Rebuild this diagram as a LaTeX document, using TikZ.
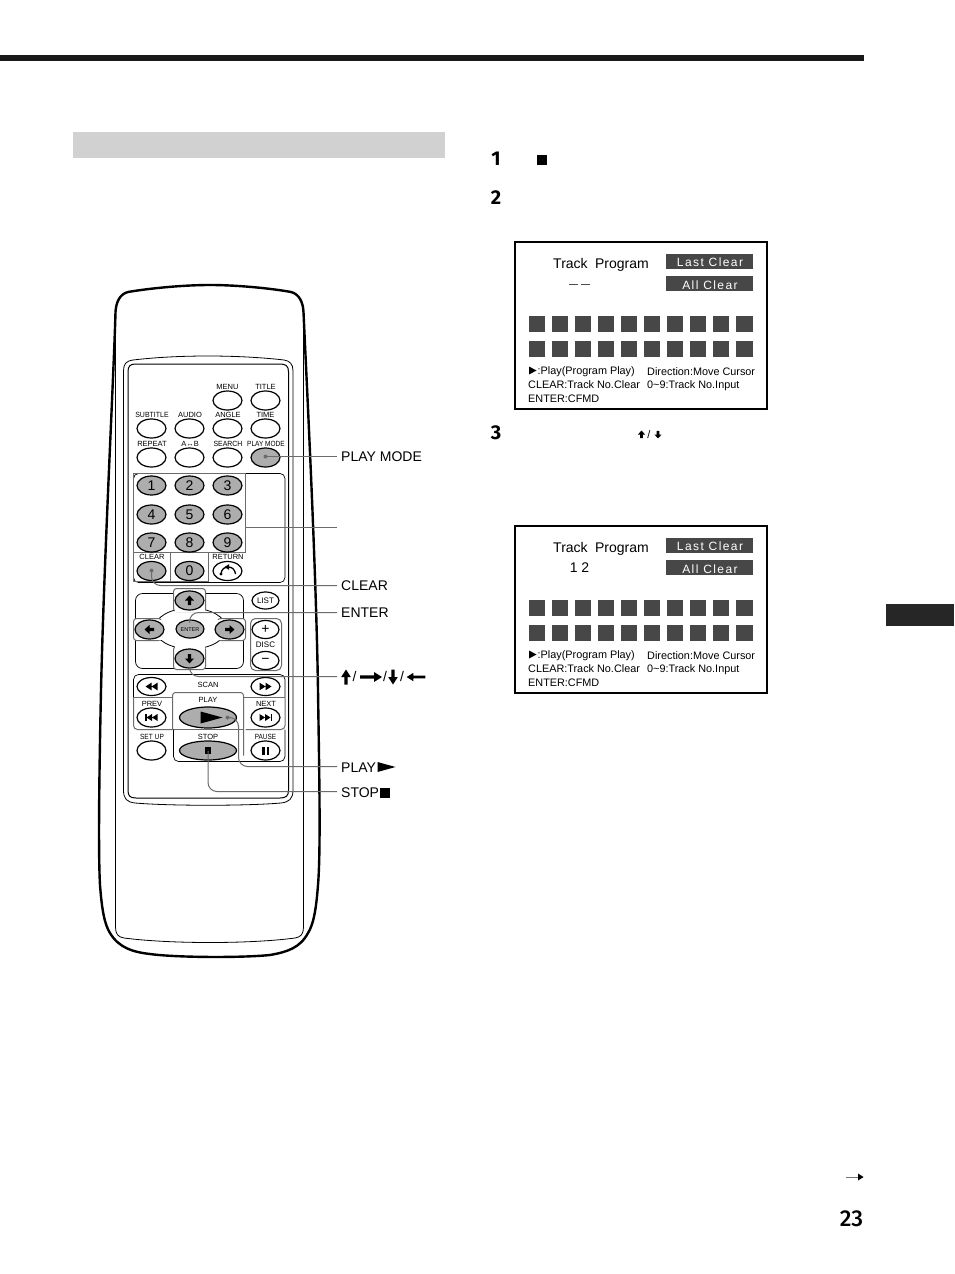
\documentclass[tikz,border=0pt]{standalone}
\usepackage{fontspec}
\usepackage{graphicx}
\setmainfont{Liberation Sans}
\newfontfamily\stepf{Fira Sans}[UprightFont=* Bold]
\newfontfamily\pagef{Fira Sans}[UprightFont=* Medium]
\usetikzlibrary{shapes.geometric,calc}
\definecolor{hbtn}{gray}{0.68}
\definecolor{dk}{gray}{0.28}
\definecolor{lead}{gray}{0.42}
\newcommand{\fz}[1]{\fontsize{#1}{#1}\selectfont}
\tikzset{
  x=1pt,y=-1pt,
  btn/.style={ellipse,draw=black,line width=1.2,fill=white,minimum width=29,minimum height=19,inner sep=0,font=\fz{14}},
  hot/.style={btn,fill=hbtn},
  tiny/.style={inner sep=0,font=\fz{7.5}},
  callout/.style={anchor=west,inner xsep=4,inner ysep=0,font=\fz{14}},
  leader/.style={draw=lead,line width=1,rounded corners=9},
  dotm/.style={fill=lead,draw=none},
  gbox/.style={draw=lead,line width=1},
  thinb/.style={draw=black,line width=.7},
  scrtxt/.style={anchor=west,inner sep=0,font=\fz{10.85}},
  bartxt/.style={inner sep=0,text=white,font=\fz{12}\addfontfeature{LetterSpace=12}},
  stepn/.style={inner sep=0,font=\stepf\fz{20}},
  slashn/.style={inner sep=0,font=\fz{14}},
  arrR/.pic={\fill[black] (-5,-1.8) -- (0,-1.8) -- (0,-5) -- (5.5,0) -- (0,5) -- (0,1.8) -- (-5,1.8) -- cycle;},
  arrLong/.pic={\fill[black] (-11,-1.6) -- (3,-1.6) -- (3,-5) -- (11,0) -- (3,5) -- (3,1.6) -- (-11,1.6) -- cycle;},
  arrTall/.pic={\fill[black] (-7.5,-1.6) -- (0,-1.6) -- (0,-4.8) -- (7.5,0) -- (0,4.8) -- (0,1.6) -- (-7.5,1.6) -- cycle;},
  twoL/.pic={\fill (0,-3.2) -- (0,3.2) -- (-5,0) -- cycle (5,-3.2) -- (5,3.2) -- (0,0) -- cycle;},
  twoR/.pic={\fill (0,-3.2) -- (0,3.2) -- (5,0) -- cycle (-5,-3.2) -- (-5,3.2) -- (0,0) -- cycle;},
}
\newcommand{\screen}[3]{%
  \begin{scope}[yshift=-#1pt]
    \draw[black,line width=1.6,fill=white] (515,242) rectangle (767,409);
    \fill[dk] (666,254) rectangle (753,269);
    \fill[dk] (666,276) rectangle (753,291);
    \node[bartxt] (last#3) at (710,262) {Last Clear};
    \node[bartxt] (all#3) at (710,285) {All Clear};
    \node[inner sep=0,font=\fz{14}] (title#3) at (601,265) {Track\hspace{3.5pt} Program};
    #2
    \foreach \c in {0,...,8}{
      \fill[dk] ({529+23*\c},316) rectangle ({545+23*\c},332);
      \fill[dk] ({529+23*\c},341) rectangle ({545+23*\c},357);
    }
    \fill[dk] (736,316) rectangle (753,332);
    \fill[dk] (736,341) rectangle (753,357);
    \fill[black] (529,366.5) -- (536.5,370.5) -- (529,374.5) -- cycle;
    \node[scrtxt] (la#3) at (537.5,371.5) {:Play(Program Play)};
    \node[scrtxt] (lb#3) at (647,371.5) {Direction:Move Cursor};
    \node[scrtxt] (lc#3) at (528,385) {CLEAR:Track No.Clear};
    \node[scrtxt] (ld#3) at (647,385.5) {0\textasciitilde 9:Track No.Input};
    \node[scrtxt] (le#3) at (528,399) {ENTER:CFMD};
  \end{scope}}
\begin{document}
\begin{tikzpicture}
\useasboundingbox (0,0) rectangle (954,1274);
\fill[white] (0,0) rectangle (954,1274);
% page furniture
\fill[black!90!white] (0,55) rectangle (864,61);
\fill[black!18] (73,132) rectangle (445,158);
\fill[black!85!white] (886,604) rectangle (954,626);
\node[inner sep=0,font=\pagef\fz{23}] (pageno) at (851.5,1219) {23};
\coordinate (contA) at (846,1177);
\coordinate (contB) at (863,1177);
\draw[black!55,line width=1] (contA) -- (contB);
\fill[black] (858,1173.5) -- (863.5,1177) -- (858,1180.5) -- cycle;
% steps
\node[stepn] (s1) at (496,159) {1};
\node[stepn] (s2) at (496,198) {2};
\node[stepn] (s3) at (496,433) {3};
\fill[black] (537,155) rectangle (547,165);
\pic[scale=.72,rotate=90] at (641.5,434.5) {arrR};
\node[inner sep=0,font=\fz{11}] (slash3) at (649,434.5) {/};
\pic[scale=.72,rotate=270] at (658,434.5) {arrR};
% screens
\screen{0}{\fill[black!70] (569,283.5) rectangle (578,284.7); \fill[black!70] (581,283.5) rectangle (590,284.7);}{A}
\screen{284}{\node[inner sep=0,font=\fz{14}] (digits) at (579.5,284) {1 2};}{B}
% remote body
\draw[black,line width=2.4,line join=round]
  (210,285) .. controls (180,285) and (145,289) .. (128,292)
  .. controls (120,294) and (116,302) .. (115.5,312)
  .. controls (114,370) and (104,560) .. (101,690)
  .. controls (99.5,760) and (98,850) .. (100,885)
  .. controls (102,912) and (105,925) .. (110,933)
  .. controls (119,948) and (133,952) .. (150,954)
  .. controls (175,957.5) and (240,958) .. (270,955)
  .. controls (287,952) and (300,948) .. (308,933)
  .. controls (313,925) and (316,912) .. (318,885)
  .. controls (321,850) and (319,760) .. (318,690)
  .. controls (316,560) and (306,370) .. (303.5,312)
  .. controls (303,302) and (299,294) .. (291,292)
  .. controls (275,289) and (240,285) .. (210,285) -- cycle;
\draw[black,line width=.8] (115.5,312) -- (115.5,927)
  .. controls (115.5,934) and (118,937) .. (124,938)
  .. controls (170,944) and (250,944) .. (295,938)
  .. controls (301,937) and (303.5,934) .. (303.5,927) -- (303.5,312);
% panel
\draw[black,line width=.8] (208,356) .. controls (175,356) and (150,358) .. (133,360)
  .. controls (126,361) and (123.5,364) .. (123.5,371) -- (123.5,790)
  .. controls (123.5,799) and (127,802) .. (135,803)
  .. controls (170,806) and (246,806) .. (281,803)
  .. controls (289,802) and (293,799) .. (293,790) -- (293,371)
  .. controls (293,364) and (290,361) .. (284,360)
  .. controls (267,358) and (240,356) .. (208,356) -- cycle;
\draw[black,line width=1] (128,372) .. controls (128,366) and (130,364) .. (136,364) -- (280,364)
  .. controls (286,364) and (288.5,366) .. (288.5,372) -- (288.5,790)
  .. controls (288.5,796) and (286,798) .. (280,798) -- (136,798)
  .. controls (130,798) and (128,796) .. (128,790) -- cycle;
\begin{scope}[shift={(0.5,0.5)}]
% number panel
\draw[thinb,rounded corners=5] (133,473) rectangle (284.5,582);
\node[draw=lead,line width=1,minimum width=112,minimum height=79,inner sep=0] (numbox) at (189,512.5) {};
\draw[gbox] (133,552) -- (133,581) -- (170,581) -- (170,552);
\draw[gbox] (170,581) -- (208,581) -- (208,552);
% top buttons
\node[btn] (bmenu) at (227,400) {};
\node[btn] (btitle) at (265,400) {};
\node[btn] (bsub) at (151,428) {};
\node[btn] (baudio) at (189,428) {};
\node[btn] (bangle) at (227,428) {};
\node[btn] (btime) at (265,428) {};
\node[btn] (brep) at (151,457) {};
\node[btn] (bab) at (189,457) {};
\node[btn] (bsearch) at (227,457) {};
\node[hot] (bmode) at (265,457) {};
\node[tiny] (tmenu) at (227,386) {MENU};
\node[tiny] (ttitle) at (265,386) {TITLE};
\node[tiny] (tsub) at (151.5,414) {\scalebox{.93}[1]{SUBTITLE}};
\node[tiny] (taudio) at (189.5,414) {AUDIO};
\node[tiny] (tangle) at (227.5,414) {ANGLE};
\node[tiny] (ttime) at (265,414) {TIME};
\node[tiny] (trep) at (151.5,443) {REPEAT};
\node[tiny] (tab) at (189.5,443) {A↔B};
\node[tiny] (tsearch) at (227.5,443) {\scalebox{.92}[1]{SEARCH}};
\node[tiny] (tmode) at (265.5,443) {\scalebox{.87}[1]{PLAY MODE}};
% numbers
\node[hot] (n1) at (151,485) {1};
\node[hot] (n2) at (189,485) {2};
\node[hot] (n3) at (227,485) {3};
\node[hot] (n4) at (151,514) {4};
\node[hot] (n5) at (189,514) {5};
\node[hot] (n6) at (227,514) {6};
\node[hot] (n7) at (151,542) {7};
\node[hot] (n8) at (189,542) {8};
\node[hot] (n9) at (227,542) {9};
\node[hot] (n0) at (189,570.5) {0};
\node[hot] (bclear) at (151,570.5) {};
\node[btn] (bret) at (227,570.5) {};
\node[tiny] (tclear) at (151.5,556.5) {CLEAR};
\node[tiny] (tret) at (227.5,556.5) {RETURN};
\draw[black,line width=1.3] (220.5,573.5) .. controls (221,568.5) and (224,566.5) .. (228,566.5)
  .. controls (232,566.5) and (234.5,569.5) .. (235,573.5);
\fill[black] (220.5,573.5) circle (1.7);
\fill[black] (224,566.5) -- (228.5,563.7) -- (228.5,569.3) -- cycle;
% cursor panel
\draw[thinb,rounded corners=7] (135,593) rectangle (243,668);
\node[ellipse,draw=black,line width=.8,minimum width=72,minimum height=41,inner sep=0] (ring) at (190,628) {};
\draw[gbox,fill=white,rounded corners=3] (173,588) rectangle (205,611);
\draw[gbox,fill=white,rounded corners=3] (173,646) rectangle (205,669);
\draw[gbox,fill=white,rounded corners=3] (133,618) rectangle (161,640);
\draw[gbox,fill=white,rounded corners=3] (217,618) rectangle (245,640);
\fill[white] (174,605) rectangle (204,611.6);
\fill[white] (174,645.4) rectangle (204,652);
\fill[white] (155,619) rectangle (161.6,639);
\fill[white] (216.4,619) rectangle (223,639);
\node[hot] (bup) at (189,600) {};
\node[hot] (bdown) at (189,658) {};
\node[hot] (bleft) at (149,629) {};
\node[hot] (bright) at (229,629) {};
\node[hot,minimum width=28,minimum height=18] (benter) at (189.5,628.5) {};
\node[inner sep=0,font=\fz{5.5}] (tenter) at (189.5,629) {ENTER};
\pic[scale=.9,rotate=90] at (bup) {arrR};
\pic[scale=.9,rotate=270] at (bdown) {arrR};
\pic[scale=.9,rotate=180] at (bleft) {arrR};
\pic[scale=.9] at (bright) {arrR};
% list / disc
\draw[gbox,rounded corners=5] (250,618) rectangle (281,670);
\node[btn,minimum width=27,minimum height=17] (blist) at (265,600) {};
\node[inner sep=0,font=\fz{8}] (tlist) at (265,600) {LIST};
\node[btn,minimum width=27,minimum height=18,font=\fz{14}] (bplus) at (265,629) {+};
\node[btn,minimum width=27,minimum height=18,font=\fz{14}] (bminus) at (265,660) {−};
\node[inner sep=0,font=\fz{8}] (tdisc) at (265,644.5) {DISC};
% transport frames
\draw[thinb,rounded corners=5] (133,697) -- (133,674) -- (284.5,674) -- (284.5,697);
\draw[gbox] (133,697) -- (172,697) (243,697) -- (284.5,697);
\draw[gbox,rounded corners=4] (133,697) -- (133,729) -- (172,729);
\draw[gbox,rounded corners=4] (284.5,697) -- (284.5,729) -- (245,729);
\draw[gbox,rounded corners=3] (172,729) -- (172,692) -- (243,692) -- (243,755);
\draw[gbox] (172,729) -- (243,729);
\draw[thinb,rounded corners=5] (173,729) -- (173,761) -- (284.5,761) -- (284.5,729);
% transport buttons
\node[btn,minimum height=18] (brew) at (151,686) {};
\node[btn,minimum height=18] (bff) at (265,686) {};
\node[btn,minimum height=19] (bprev) at (151,717) {};
\node[btn,minimum height=19] (bnext) at (265,717) {};
\node[btn,minimum height=19] (bsetup) at (151,750) {};
\node[btn,minimum height=19] (bpause) at (265,750) {};
\node[hot,minimum width=57,minimum height=21] (bplay) at (207.5,717) {};
\node[hot,minimum width=57,minimum height=19] (bstop) at (207.5,750) {};
\pic[scale=1.2] at (brew) {twoL};
\pic[scale=1.2] at (bff) {twoR};
\begin{scope}[shift={(bprev)}]
  \pic[scale=1.1] at (0.5,0) {twoL};
  \fill[black] (-6.5,-3.5) rectangle (-5,3.5);
\end{scope}
\begin{scope}[shift={(bnext)}]
  \pic[scale=1.1] at (-0.5,0) {twoR};
  \fill[black] (5,-3.5) rectangle (6.5,3.5);
\end{scope}
\fill[black] (261.5,746) rectangle (264,754);
\fill[black] (266,746) rectangle (268.5,754);
\fill[black] (204,746.5) rectangle (210.5,753);
\fill[black] (200,711) -- (222,717) -- (200,723) -- cycle;
\node[tiny] (tscan) at (207.5,684.5) {SCAN};
\node[tiny] (tplay) at (207.5,699) {PLAY};
\node[tiny] (tstop) at (207.5,736) {STOP};
\node[tiny] (tprev) at (151.5,703.5) {PREV};
\node[tiny] (tnext) at (265.5,703.5) {NEXT};
\node[tiny] (tsetup) at (151.5,736) {\scalebox{.88}[1]{SET UP}};
\node[tiny] (tpause) at (265,736) {\scalebox{.85}[1]{PAUSE}};
% callouts
\node[callout] (lmode) at (336.5,456) {PLAY MODE};
\coordinate (lnum) at (336.5,527);
\node[callout] (lclear) at (336.5,585) {CLEAR};
\node[callout] (lenter) at (336.5,612) {ENTER};
\coordinate (larrows) at (336.5,676);
\pic[rotate=90] at (345.5,676.5) {arrTall};
\node[slashn] (sl1) at (354,676) {/};
\pic at (370.5,676.5) {arrLong};
\node[slashn] (sl2) at (384.5,676) {/};
\pic[rotate=270] at (392.5,676.5) {arrTall};
\node[slashn] (sl3) at (401.5,676) {/};
\pic[rotate=180,scale=.85] at (415.5,676.5) {arrLong};
\node[callout] (lplay) at (336.5,767) {PLAY};
\node[callout] (lstop) at (336.5,792) {STOP};
\fill[black] (377,761.5) -- (395,766.5) -- (377,771.5) -- cycle;
\fill[black] (379,787) rectangle (389,797);
% leaders
\coordinate (dmode) at (265,456);
\coordinate (dclear) at (151,570);
\coordinate (denter) at (189,622);
\coordinate (darr) at (189,669);
\coordinate (dplay) at (227,717);
\coordinate (dstop) at (207.5,750);
\draw[leader] (dmode) -- (lmode.west |- dmode);
\draw[leader] (numbox.east |- lnum) -- (lnum);
\draw[leader] (dclear) -- (151,585) -- (lclear.west);
\draw[leader] (denter) -- (189,612) -- (lenter.west);
\draw[leader] (darr) -- (189,676) -- (larrows);
\draw[leader] (dplay) -- (238,717) -- (238,766) -- (lplay.west |- 0,766);
\draw[leader] (dstop) -- (207.5,791) -- (lstop.west |- 0,791);
\fill[dotm] (dmode) circle (2);
\fill[dotm] (dclear) circle (2);
\fill[dotm] (dplay) circle (2);
\end{scope}
\end{tikzpicture}
\end{document}
